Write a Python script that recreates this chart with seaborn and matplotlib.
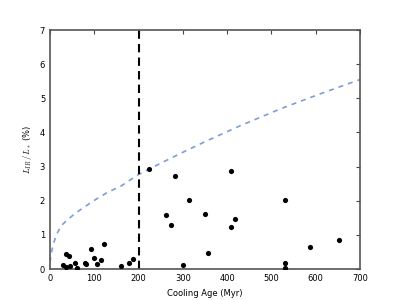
import numpy as np
import pandas as pd
import matplotlib
matplotlib.use("Agg")
import matplotlib.pyplot as plt
import seaborn as sns

# observed sources
cooling_age = [29, 36, 36, 45, 44, 57, 62, 79, 81, 92, 100, 105, 116, 122,
               160, 178, 188, 223, 263, 273, 282, 300, 313,
               349, 357, 409, 409, 418, 531, 531, 531, 588, 652]
lir_frac = [0.12, 0.05, 0.43, 0.10, 0.39, 0.19, 0.04, 0.17, 0.15, 0.60, 0.33, 0.15, 0.27, 0.74,
            0.08, 0.19, 0.30, 2.94, 1.59, 1.28, 2.72, 0.11, 2.02,
            1.60, 0.47, 2.87, 1.22, 1.46, 2.01, 0.18, 0.04, 0.66, 0.84]

# model curve
model_age = [0, 0.5, 1.5, 3.5, 7, 14, 26, 41, 55, 71, 101, 129, 160, 200, 250, 300, 350,
             430, 520, 610, 700]
model_lir = [0.2, 0.24, 0.33, 0.50, 0.70, 1.00, 1.28, 1.46, 1.61, 1.76, 2.02, 2.24, 2.43,
             2.77, 3.10, 3.42, 3.73, 4.20, 4.69, 5.13, 5.55]

age_cut = 200

df = pd.DataFrame({"age": cooling_age, "lir": lir_frac})
model = pd.DataFrame({"age": model_age, "lir": model_lir})

sns.set_style("white")
plt.rcParams["font.family"] = ["DejaVu Sans"]
plt.rcParams["mathtext.fontset"] = "cm"
plt.rcParams["text.color"] = "black"
plt.rcParams["axes.labelcolor"] = "black"
plt.rcParams["xtick.color"] = "black"
plt.rcParams["ytick.color"] = "black"

fig = plt.figure(figsize=(4, 3), dpi=100)
ax = fig.add_axes([0.125, 0.103, 0.775, 0.797])

sns.lineplot(data=model, x="age", y="lir", ax=ax, color="#7f9dd4",
             linestyle=(0, (3, 3)), linewidth=1.2)
ax.axvline(age_cut, color="black", linestyle=(0, (4, 2.5)), linewidth=1.5)
sns.scatterplot(data=df, x="age", y="lir", ax=ax, color="black", s=14,
                edgecolor="black", linewidth=0, zorder=3)

ax.set_xlim(0, 700)
ax.set_ylim(0, 7)
ax.set_xticks(range(0, 701, 100))
ax.set_yticks(range(0, 8))
ax.set_xlabel("Cooling Age (Myr)", fontsize=6)
ax.set_ylabel(r"$L_{IR}\,/\,L_*$ (%)", fontsize=6)
ax.tick_params(direction="in", length=3, width=0.8, labelsize=6,
               top=True, right=True, color="#444444", labelcolor="black")
for sp in ax.spines.values():
    sp.set_color("#555555")
    sp.set_linewidth(1.2)

fig.savefig("out.png", dpi=100)
